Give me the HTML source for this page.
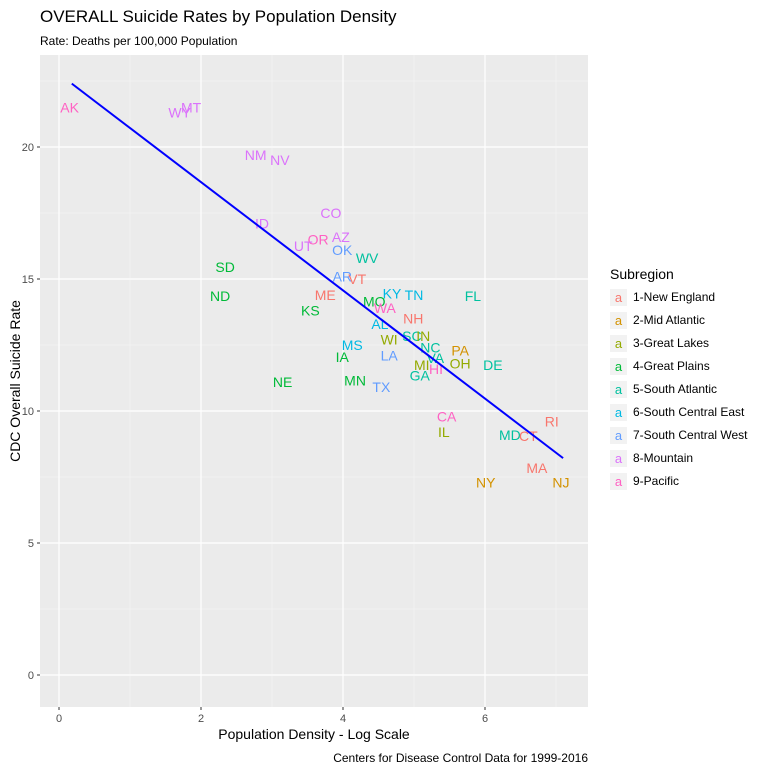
<!DOCTYPE html>
<html><head><meta charset="utf-8"><style>
body{margin:0;background:#fff;font-family:"Liberation Sans",Arial,sans-serif}
svg text{font-family:"Liberation Sans",Arial,sans-serif}
</style></head><body>
<svg id="c" width="768" height="768" xmlns="http://www.w3.org/2000/svg">
<text x="40" y="22" font-size="17" fill="#000">OVERALL Suicide Rates by Population Density</text>
<text x="40" y="45" font-size="12" fill="#000">Rate: Deaths per 100,000 Population</text>
<rect x="40" y="55" width="548" height="652" fill="#EBEBEB"/>
<g id="grid"></g><g id="marks"></g><g id="axes"></g>
<text x="314" y="739" font-size="14" text-anchor="middle">Population Density - Log Scale</text>
<text transform="translate(20,381) rotate(-90)" font-size="14" text-anchor="middle">CDC Overall Suicide Rate</text>
<text x="588" y="762" font-size="12" text-anchor="end">Centers for Disease Control Data for 1999-2016</text>
<text x="610" y="279" font-size="14">Subregion</text>
<g id="legend"></g>
</svg>
<script>
const regions=["1-New England","2-Mid Atlantic","3-Great Lakes","4-Great Plains","5-South Atlantic","6-South Central East","7-South Central West","8-Mountain","9-Pacific"];
const colors=["#F8766D","#D39200","#93AA00","#00BA38","#00C19F","#00B9E3","#619CFF","#DB72FB","#FF61C3"];
const states=["AK","WY","MT","NM","NV","ID","CO","OR","AZ","UT","OK","WV","SD","AR","VT","ND","ME","KY","TN","FL","MO","KS","WA","NH","AL","WI","SC","IN","MS","PA","NC","IA","LA","VA","MI","OH","DE","HI","GA","NE","MN","TX","CA","RI","IL","MD","CT","MA","NY","NJ"];
const density=[0.15,1.70,1.86,2.77,3.11,2.86,3.83,3.65,3.97,3.44,3.99,4.34,2.34,3.99,4.2,2.27,3.75,4.69,5.0,5.83,4.44,3.54,4.59,4.99,4.52,4.65,4.97,5.13,4.13,5.65,5.23,3.99,4.65,5.3,5.11,5.65,6.11,5.31,5.08,3.15,4.17,4.54,5.46,6.94,5.42,6.35,6.61,6.73,6.01,7.07];
const rate=[21.5,21.3,21.5,19.7,19.5,17.1,17.5,16.5,16.6,16.25,16.1,15.8,15.45,15.1,15.0,14.35,14.4,14.45,14.4,14.35,14.15,13.8,13.9,13.5,13.3,12.7,12.85,12.85,12.5,12.3,12.4,12.05,12.1,12.0,11.75,11.8,11.75,11.6,11.35,11.1,11.15,10.9,9.8,9.6,9.2,9.1,9.05,7.85,7.3,7.3];
const region=[8,7,7,7,7,7,7,8,7,7,6,4,3,6,0,3,0,5,5,4,3,3,8,0,5,2,4,2,5,1,4,3,6,4,2,2,4,8,4,3,3,6,8,0,2,4,0,0,1,1];
const fitX=[0.18,7.1];
const fitSlope=-2.05, fitIntercept=22.77;
const xTicks=[0,2,4,6], yTicks=[0,5,10,15,20];
const xMinor=[1,3,5,7], yMinor=[2.5,7.5,12.5,17.5,22.5];
const X=v=>59+v*71, Y=v=>675-v*26.4;
const NS="http://www.w3.org/2000/svg";
function mk(p,t,a){const e=document.createElementNS(NS,t);for(const k in a)e.setAttribute(k,a[k]);p.appendChild(e);return e;}
const g=document.getElementById('grid'),m=document.getElementById('marks'),ax=document.getElementById('axes'),lg=document.getElementById('legend');
xMinor.forEach(v=>{if(X(v)<588){const l=mk(g,'line',{x1:X(v),x2:X(v),y1:55,y2:707,stroke:'#F5F5F5','stroke-width':0.6});}});
yMinor.forEach(v=>{if(Y(v)>55){const l=mk(g,'line',{x1:40,x2:588,y1:Y(v),y2:Y(v),stroke:'#F5F5F5','stroke-width':0.6});}});
xTicks.forEach(v=>{const l=mk(g,'line',{x1:X(v),x2:X(v),y1:55,y2:707,stroke:'#fff','stroke-width':1.2});
mk(ax,'line',{x1:X(v),x2:X(v),y1:707,y2:710,stroke:'#333'});
const t=mk(ax,'text',{x:X(v),y:722,'font-size':11,fill:'#4D4D4D','text-anchor':'middle'});t.textContent=v;});
yTicks.forEach(v=>{const l=mk(g,'line',{x1:40,x2:588,y1:Y(v),y2:Y(v),stroke:'#fff','stroke-width':1.2});
mk(ax,'line',{x1:37,x2:40,y1:Y(v),y2:Y(v),stroke:'#333'});
const t=mk(ax,'text',{x:34,y:Y(v)+4,'font-size':11,fill:'#4D4D4D','text-anchor':'end'});t.textContent=v;});
states.forEach((s,i)=>{const t=mk(m,'text',{x:X(density[i]),y:Y(rate[i])+5,'font-size':14,fill:colors[region[i]],'text-anchor':'middle'});t.textContent=s;

});
const fl=mk(m,'line',{x1:X(fitX[0]),y1:Y(fitIntercept+fitSlope*fitX[0]),x2:X(fitX[1]),y2:Y(fitIntercept+fitSlope*fitX[1]),stroke:'#0000FF','stroke-width':2});


regions.forEach((r,i)=>{const y=289+i*23;
const k=mk(lg,'rect',{x:610,y:y,width:17,height:17,fill:'#F2F2F2'});
const a=mk(lg,'text',{x:618.5,y:y+13,'font-size':13,fill:colors[i],'text-anchor':'middle'});a.textContent='a';
const t=mk(lg,'text',{x:633,y:y+12,'font-size':12,fill:'#000'});t.textContent=r;

});
</script>
</body></html>
